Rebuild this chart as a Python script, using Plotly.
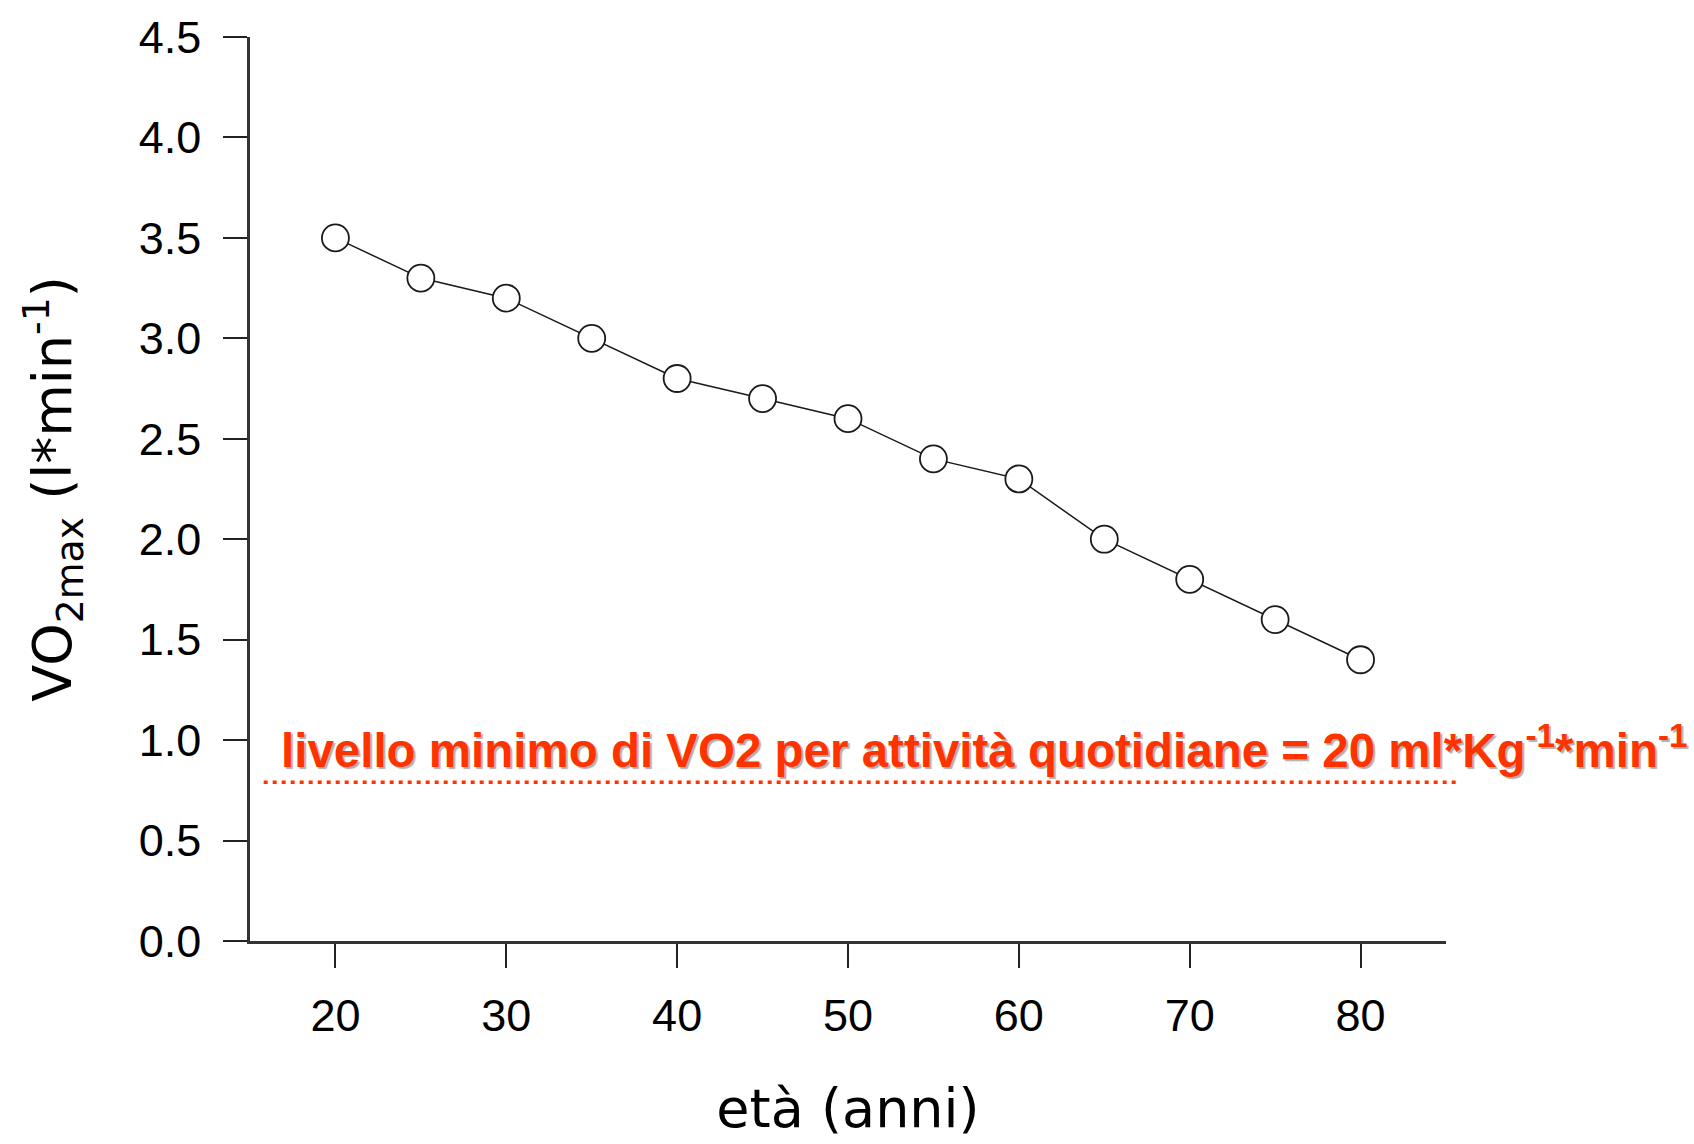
import plotly.graph_objects as go

age = [20, 25, 30, 35, 40, 45, 50, 55, 60, 65, 70, 75, 80]
vo2max = [3.5, 3.3, 3.2, 3.0, 2.8, 2.7, 2.6, 2.4, 2.3, 2.0, 1.8, 1.6, 1.4]
x_ticks = [20, 30, 40, 50, 60, 70, 80]
y_ticks = [0.0, 0.5, 1.0, 1.5, 2.0, 2.5, 3.0, 3.5, 4.0, 4.5]
x_range = [15, 85]
y_range = [0, 4.5]
min_level = 0.79
min_label = ("livello minimo di VO2 per attività quotidiane = 20 ml*Kg"
             "<sup>-1</sup>*min<sup>-1</sup>")

fig = go.Figure()
fig.add_trace(go.Scatter(
    x=age, y=vo2max, mode="lines+markers",
    line=dict(color="#1a1a1a", width=1.5),
    marker=dict(symbol="circle", size=27, color="white",
                line=dict(color="#1a1a1a", width=1.8)),
    cliponaxis=False, showlegend=False,
))

red = "#FF3300"
span = x_range[1] - x_range[0]
ypaper = min_level / y_range[1]
fig.add_shape(type="line", xref="paper", yref="paper",
              x0=(15.8 - x_range[0]) / span,
              x1=(85.6 - x_range[0]) / span,
              y0=ypaper, y1=ypaper,
              line=dict(color=red, width=3.5, dash="4px,5px"))
fig.add_annotation(xref="paper", yref="paper",
                   x=(16.7 - x_range[0]) / span,
                   y=ypaper + 0.004, xanchor="left", yanchor="bottom",
                   text=min_label, showarrow=False,
                   font=dict(family="Liberation Sans, Arial", size=47.5, color=red,
                             weight="bold", shadow="2px 2px 1px #b0b0b0"))

tick_font = dict(family="Liberation Sans, Arial", size=45, color="black")
title_font = dict(family="DejaVu Sans", size=54, color="black")

fig.update_xaxes(range=x_range, tickvals=x_ticks, ticks="outside", ticklen=24,
                 tickwidth=2, tickcolor="#222222", showline=True, linecolor="#333333",
                 linewidth=2.5, showgrid=False, zeroline=False, tickfont=tick_font,
                 ticklabelstandoff=9,
                 title=dict(text="età (anni)", font=title_font, standoff=50))
fig.update_yaxes(range=y_range, tickvals=y_ticks, tickformat=".1f", ticks="outside",
                 ticklen=24, tickwidth=2, tickcolor="#222222", showline=True,
                 linecolor="#333333", linewidth=2.5, showgrid=False, zeroline=False,
                 tickfont=tick_font, ticklabelstandoff=13,
                 title=dict(text="VO<sub>2max</sub> (l*min<sup>-1</sup>)", font=title_font,
                            standoff=50))

fig.update_layout(width=1694, height=1144, plot_bgcolor="white", paper_bgcolor="white",
                  margin=dict(l=250, r=248, t=30, b=203))
fig.write_html("out.html")
